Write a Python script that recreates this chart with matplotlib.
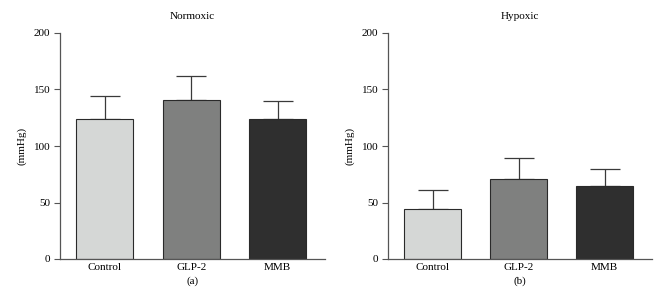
import matplotlib.pyplot as plt
import numpy as np

plt.rcParams['font.family'] = ['Liberation Serif', 'DejaVu Serif']

groups = ['Control', 'GLP-2', 'MMB']
normoxic = [123.5, 141, 123.5]
normoxic_err = [20.5, 21, 16]
hypoxic = [44.5, 70.5, 64.5]
hypoxic_err = [17, 18.5, 15.5]
titles = ['Normoxic', 'Hypoxic']
captions = ['(a)', '(b)']
yticks = [0, 50, 100, 150, 200]

colors = ['#d5d7d6', '#7f807f', '#2f2f2f']

fig = plt.figure(figsize=(6.57, 3.04), dpi=100)
W, H = 657, 304
panels = [(60, 325), (388, 652)]
y_top, y_bot = 33, 259

for k, (vals, errs) in enumerate([(normoxic, normoxic_err), (hypoxic, hypoxic_err)]):
    x0, x1 = panels[k]
    ax = fig.add_axes([x0 / W, 1 - y_bot / H, (x1 - x0) / W, (y_bot - y_top) / H])
    x = np.arange(len(groups))
    ax.bar(x, vals, width=0.66, color=colors, edgecolor='#2a2a2a', linewidth=0.8, zorder=2)
    ax.errorbar(x, vals, yerr=[np.zeros(3), errs], fmt='none', ecolor='#3a3a3a',
                elinewidth=0.9, capsize=10.5, capthick=0.9, zorder=1)
    ax.set_xlim(-0.52, 2.55)
    ax.set_ylim(0, 200)
    ax.set_yticks(yticks)
    ax.set_xticks(x)
    ax.set_xticklabels(groups, fontsize=8)
    ax.tick_params(axis='x', length=0, pad=3)
    ax.tick_params(axis='y', labelsize=8, length=4, width=0.8, color='#555555', pad=3)
    for s in ['top', 'right']:
        ax.spines[s].set_visible(False)
    for s in ['left', 'bottom']:
        ax.spines[s].set_color('#555555')
        ax.spines[s].set_linewidth(0.9)
    ax.set_ylabel('(mmHg)', fontsize=8, labelpad=5)
    ax.set_title(titles[k], fontsize=8, pad=10)
    ax.text(0.5, -0.078, captions[k], transform=ax.transAxes, ha='center', va='top',
            fontsize=8)

fig.savefig('out.png', dpi=100)
